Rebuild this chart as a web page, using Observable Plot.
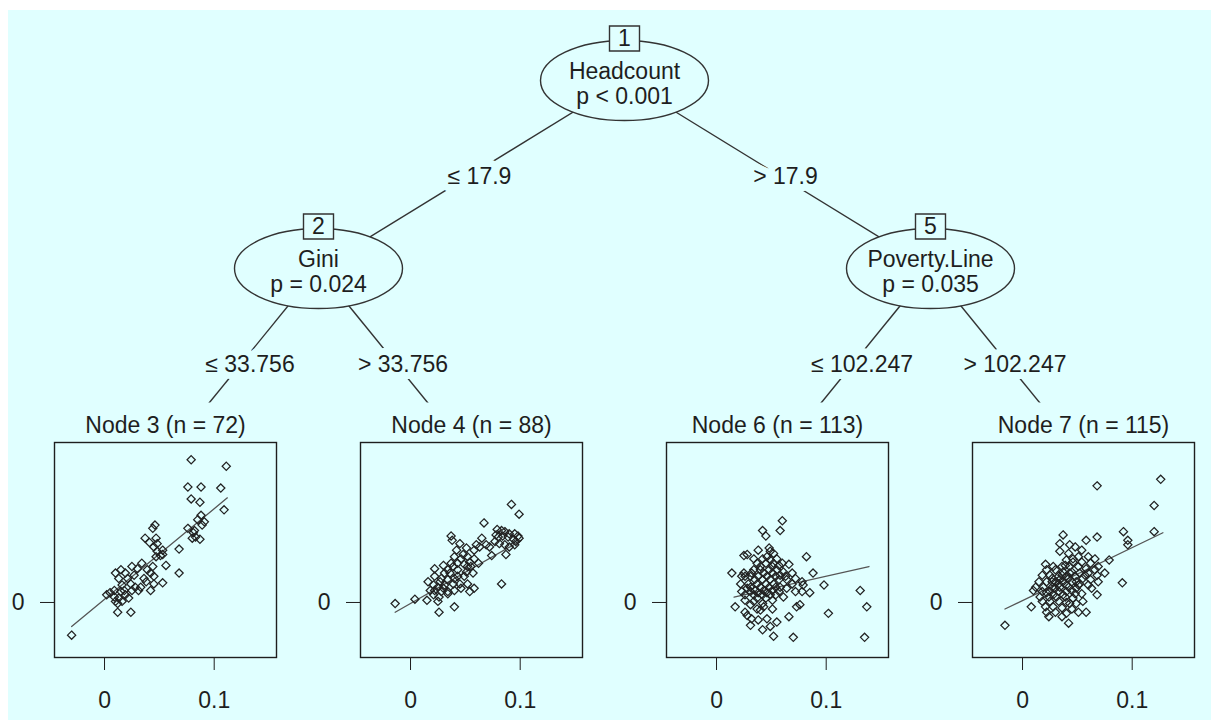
<!DOCTYPE html>
<html><head><meta charset="utf-8">
<script src="https://cdn.jsdelivr.net/npm/d3@7"></script>
<script src="https://cdn.jsdelivr.net/npm/@observablehq/plot@0.6"></script>
<style>
body{margin:0;background:#fff;}
#page{position:relative;width:1220px;height:724px;background:#fff;overflow:hidden;font-family:"Liberation Sans",Arial,sans-serif;}
#bg{position:absolute;left:8px;top:10px;width:1203px;height:710px;background:#e0ffff;}
</style></head><body>
<div id="page"><div id="bg"></div></div>
<script>
// ---------- tree structure ----------
const innerIds = [1, 2, 5];
const innerVars = ["Headcount", "Gini", "Poverty.Line"];
const innerPvals = ["p < 0.001", "p = 0.024", "p = 0.035"];
const leafIds = [3, 4, 6, 7];
const leafN = [72, 88, 113, 115];
const edgeFrom = [1, 1, 2, 2, 5, 5];
const edgeTo = [2, 5, 3, 4, 6, 7];
const edgeLabels = ["≤ 17.9", "> 17.9", "≤ 33.756", "> 33.756", "≤ 102.247", "> 102.247"];

// ---------- panel axes ----------
const xTicks = [0, 0.1];
const xTickLabels = ["0", "0.1"];
const yTicks = [0];
const yTickLabels = ["0"];
const xDomain = [-0.0456, 0.1568];
const yDomain = [-0.0505, 0.1468];

// ---------- leaf data (values x 1000) ----------
const node3X = [79,111,76,88,106,79,87,109,88,91,76,81,83,87,80,46,44,37,47,41,48,68,51,47,53,56,34,42,68,15,19,25,30,13,21,24,28,33,38,45,53,42,9,15,18,2,9,13,22,12,16,12,24,-30,27,36,45,53,5,10,19,25,48,10,89,85,39,44,31,16,82,45];
const node3Y = [131,125,106,106,105,95,92,85,80,74,68,64,60,58,59,71,68,59,59,55,54,49,43,42,44,34,36,27,27,30,27,33,31,22,22,17,14,14,19,17,18,11,11,10,11,7,5,4,4,-1,1,-9,-9,-30,25,22,51,48,9,1,7,11,47,27,71,76,30,33,11,16,66,24];
const node3FitX = [-30, 112];
const node3FitY = [-22, 96];

const node4X = [92,99,67,79,83,86,90,95,98,99,94,89,84,80,77,81,86,90,95,87,74,65,60,69,83,37,38,45,51,42,48,40,52,58,62,55,49,43,37,30,22,34,43,51,57,49,40,34,28,22,16,21,25,31,39,45,52,58,54,46,40,34,28,22,18,21,26,34,25,15,40,26,4,-14,58,63,46,36,43,31,52,39,27,78,96,72,54,30];
const node4Y = [90,81,73,67,66,65,63,63,61,59,58,60,61,60,56,54,53,51,53,44,43,59,53,53,17,61,57,54,50,48,44,42,42,40,36,33,35,36,36,34,31,30,30,28,27,24,22,21,22,24,19,16,14,16,17,17,17,13,10,13,11,10,10,11,11,7,5,8,1,2,-4,-9,3,-1,48,51,40,27,24,27,33,33,19,62,56,51,37,13];
const node4FitX = [-14, 101];
const node4FitY = [-9, 57];

const node6X = [60,58,42,45,25,28,38,48,52,46,42,55,82,37,45,52,60,66,14,25,26,34,40,48,55,61,69,88,31,38,46,54,63,72,78,98,131,22,29,37,45,52,58,69,79,28,35,43,51,57,72,85,78,137,26,34,42,49,17,26,34,42,51,61,73,76,37,43,51,26,28,32,38,46,55,66,102,31,42,49,52,70,135,34,49,57,40,51,32,43,51,58,35,42,49,57,64,31,40,48,54,64,23,31,38,46,54,37,45,31,40,23,49];
const node6Y = [75,66,66,61,43,44,48,50,45,42,40,40,42,36,36,36,36,35,27,27,24,30,30,30,30,28,27,27,24,24,24,24,24,22,19,16,11,17,17,17,17,17,14,17,16,13,11,11,11,10,10,9,10,-4,7,7,7,7,-4,2,1,-1,2,5,-4,-2,-6,-4,-6,-9,-12,-15,-16,-15,-18,-13,-10,-21,-25,-22,-31,-32,-32,40,39,34,33,33,27,27,27,25,21,21,21,21,21,14,14,14,14,13,10,10,9,9,7,4,4,-2,-7,24,47];
const node6FitX = [16, 139];
const node6FitY = [5, 33];

const node7X = [126,68,120,92,120,96,96,68,37,58,34,43,79,75,91,68,58,42,36,-16,8,34,48,54,42,51,60,66,40,46,54,62,69,21,28,36,43,51,58,66,22,30,37,45,52,60,68,18,25,33,40,48,55,62,69,15,22,30,37,45,52,60,12,19,27,34,42,49,10,18,25,33,40,48,54,16,24,31,39,46,18,25,33,40,49,55,21,28,36,45,22,30,24,40,51,27,34,42,49,57,43,36,40,45,37,28,33,27,51,63,43,22,30,46,39];
const node7Y = [113,107,89,65,65,57,53,60,62,57,54,53,39,27,18,7,-9,-19,-13,-21,-4,47,51,48,45,42,42,40,39,37,37,36,33,35,33,33,33,33,31,30,30,30,28,28,27,27,25,25,25,24,24,24,22,21,19,19,19,19,19,19,17,16,14,14,14,14,14,13,11,10,10,10,10,8,8,5,5,5,5,4,1,1,1,0,-1,1,-4,-4,-5,-6,-9,-9,-13,-10,-9,19,21,22,19,25,27,25,16,11,7,7,17,22,16,13,-1,9,13,40,34];
const node7FitX = [-16, 128];
const node7FitY = [-6, 64];

// ---------- styling ----------
const BG = "#e0ffff";
const INK = "#1e1e1e";
const FONT = '"Liberation Sans", Arial, Helvetica, sans-serif';
const FS = 23;
const page = document.getElementById("page");

// ---------- layout from structure ----------
const children = {};
edgeFrom.forEach((p, i) => { (children[p] = children[p] || []).push(edgeTo[i]); });
const depth = {}, pos = {};
function layout(id, d) {
  depth[id] = d;
  if (children[id]) {
    const xs = children[id].map(c => layout(c, d + 1));
    pos[id] = (d3.min(xs) + d3.max(xs)) / 2;
  } else pos[id] = leafIds.indexOf(id);
  return pos[id];
}
layout(1, 0);

const xRange = [165, 1083];
const xPix = d3.scaleLinear([0, leafIds.length - 1], xRange);

const inner = innerIds.map((id, i) => ({id, x: pos[id], y: depth[id], label: innerVars[i] + "\n" + innerPvals[i]}));
const leaves = leafIds.map(id => ({id, x: pos[id], y: depth[id]}));
const edges = edgeFrom.map((p, i) => ({x1: pos[p], y1: depth[p], x2: pos[edgeTo[i]], y2: depth[edgeTo[i]], label: edgeLabels[i]}));

const K = 0.5523;
const ellipseSym = (rx, ry) => ({draw(c) {
  c.moveTo(rx, 0);
  c.bezierCurveTo(rx, ry * K, rx * K, ry, 0, ry);
  c.bezierCurveTo(-rx * K, ry, -rx, ry * K, -rx, 0);
  c.bezierCurveTo(-rx, -ry * K, -rx * K, -ry, 0, -ry);
  c.bezierCurveTo(rx * K, -ry, rx, -ry * K, rx, 0);
  c.closePath();
}});
const rectSym = (w, h) => ({draw(c) { c.rect(-w / 2, -h / 2, w, h); }});

const tree = Plot.plot({
  width: 1220, height: 480, margin: 0,
  x: {domain: [0, leafIds.length - 1], range: xRange, axis: null},
  y: {domain: [0, 2], range: [80, 456], axis: null},
  style: {background: "transparent", fontFamily: FONT, fontSize: FS + "px", color: INK},
  marks: [
    Plot.link(edges, {x1: "x1", y1: "y1", x2: "x2", y2: "y2", stroke: "#333", strokeWidth: 1.4}),
    Plot.dot(leaves, {x: "x", y: "y", symbol: rectSym(236, 108), fill: BG}),
    Plot.dot(inner, {x: "x", y: "y", symbol: ellipseSym(84, 40), fill: BG, stroke: "#333", strokeWidth: 1.4}),
    Plot.dot(inner, {x: "x", y: "y", symbol: rectSym(30, 25), dy: -42, fill: BG, stroke: "#333", strokeWidth: 1.4}),
    Plot.text(inner, {x: "x", y: "y", text: d => String(d.id), dy: -42, fontSize: FS, fill: INK}),
    Plot.text(inner, {x: "x", y: "y", text: "label", dy: 3, lineHeight: 1.07, fontSize: FS, fill: INK}),
    Plot.text(edges, {x: d => (d.x1 + d.x2) / 2, y: d => (d.y1 + d.y2) / 2, text: "label", dx: 8, dy: 2, fontSize: FS, fill: INK, stroke: BG, strokeWidth: 14})
  ]
});
tree.style.position = "absolute";
tree.style.left = "0px";
tree.style.top = "0px";
page.appendChild(tree);

// ---------- leaf panels ----------
const panelData = [
  {xs: node3X, ys: node3Y, fx: node3FitX, fy: node3FitY},
  {xs: node4X, ys: node4Y, fx: node4FitX, fy: node4FitY},
  {xs: node6X, ys: node6Y, fx: node6FitX, fy: node6FitY},
  {xs: node7X, ys: node7Y, fx: node7FitX, fy: node7FitY}
];

leafIds.forEach((id, i) => {
  const p = panelData[i];
  const cx = xPix(pos[id]);
  const pts = p.xs.map((x, j) => ({x: x / 1000, y: p.ys[j] / 1000}));
  const fit = p.fx.map((x, j) => ({x: x / 1000, y: p.fy[j] / 1000}));
  const chart = Plot.plot({
    width: 330, height: 315,
    marginLeft: 54, marginRight: 54, marginTop: 37, marginBottom: 63,
    style: {background: "transparent", fontFamily: FONT, fontSize: FS + "px", color: INK, overflow: "visible"},
    x: {domain: xDomain, ticks: xTicks, tickFormat: d => xTickLabels[xTicks.indexOf(d)], tickSize: 13, tickPadding: 21, label: null},
    y: {domain: yDomain, ticks: yTicks, tickFormat: d => yTickLabels[yTicks.indexOf(d)], tickSize: 14, tickPadding: 16, label: null},
    marks: [
      Plot.frame({stroke: INK, strokeWidth: 1.4}),
      Plot.line(fit, {x: "x", y: "y", stroke: "#555", strokeWidth: 1.3}),
      Plot.dot(pts, {x: "x", y: "y", symbol: "diamond2", r: 3.7, stroke: "#222", strokeWidth: 1.25}),
      Plot.text([`Node ${id} (n = ${leafN[i]})`], {frameAnchor: "top", lineAnchor: "middle", dy: -17, fontSize: FS, fill: INK})
    ]
  });
  chart.style.position = "absolute";
  chart.style.left = (cx - 165) + "px";
  chart.style.top = "405px";
  page.appendChild(chart);
});
</script>
</body></html>
